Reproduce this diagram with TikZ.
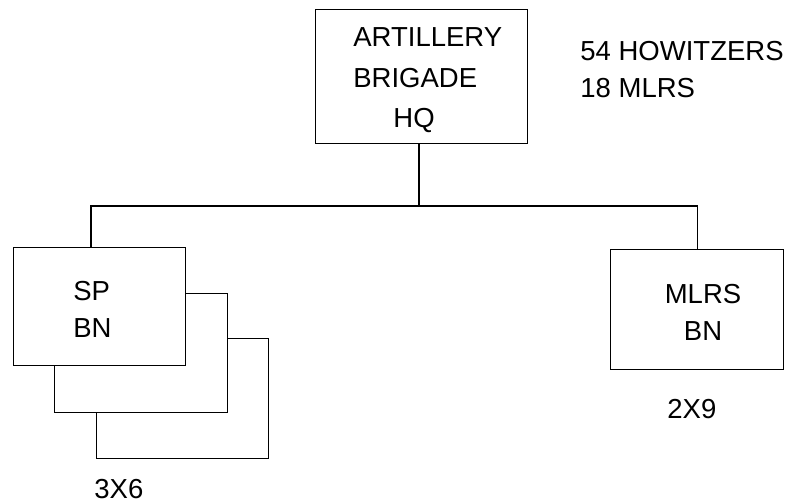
\documentclass[tikz,border=0pt]{standalone}
\usepackage{fontspec}
\setmainfont{Liberation Sans}
\usetikzlibrary{positioning}

\begin{document}
\begin{tikzpicture}[
        x=0.5pt, y=-0.5pt,
        box/.style={draw, line width=0.6pt, fill=white, inner sep=0pt, anchor=north west},
        txt/.style={inner sep=0pt, anchor=base west, align=left, font=\fontsize{13.75}{18.5}\selectfont},
        link/.style={line width=0.6pt},
    ]
    \useasboundingbox (0,0) rectangle (786,502);

    % ---- HQ ----
    \node[box, minimum width=106pt, minimum height=67pt] (hq) at (315,9) {};
    \node[txt, font=\fontsize{13.75}{20.25}\selectfont] (hq-text) at (353,128) {ARTILLERY\\BRIGADE\\\hspace*{20pt}HQ};
    \node[txt] (strength) at (580,98) {54 HOWITZERS\\18 MLRS};

    % ---- SP BATTALIONS (stacked) ----
    \node[box, minimum width=86pt, minimum height=60pt] (sp-c) at (96,338) {};
    \node[box, minimum width=86.5pt, minimum height=59.5pt] (sp-b) at (54,293) {};
    \node[box, minimum width=86pt, minimum height=59pt] (sp-a) at (13,247) {};
    \node[txt] (sp-text) at (73,337) {SP\\BN};
    \node[txt] (sp-count) at (94,498) {3X6};

    % ---- MLRS BATTALION ----
    \node[box, minimum width=86.5pt, minimum height=60pt] (mlrs) at (610,249) {};
    \node[txt, anchor=base, align=center] (mlrs-text) at (703,340) {MLRS\\BN};
    \node[txt] (mlrs-count) at (667,418) {2X9};

    % ---- CONNECTORS ----
    \coordinate (bus-l) at (91,206);
    \coordinate (bus-m) at (419,206);
    \coordinate (bus-r) at (mlrs.north |- bus-l);
    \draw[link] (hq.south -| bus-m) -- (bus-m);
    \draw[link] (sp-a.north -| bus-l) -- (bus-l) -- (bus-r) -- (mlrs.north);

\end{tikzpicture}
\end{document}
